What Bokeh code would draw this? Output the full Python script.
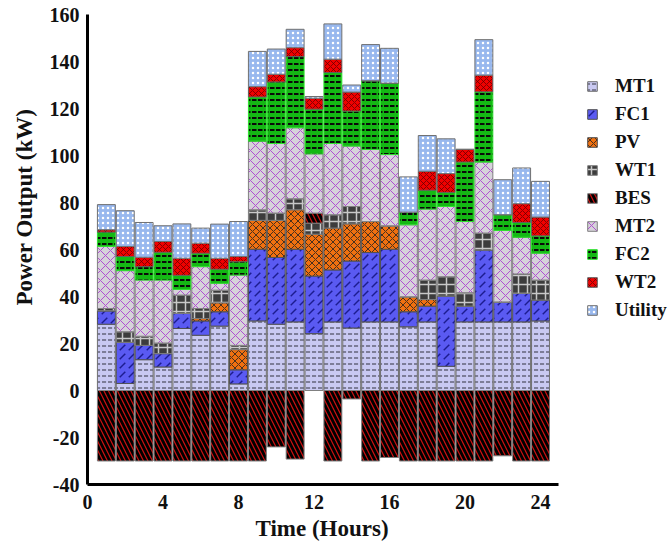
from bokeh.plotting import figure
from bokeh.models import ColumnDataSource, Range1d, Legend, LegendItem, Title
from bokeh.embed import file_html
from bokeh.resources import INLINE

# Hourly dispatch of each unit (kW)
hours = list(range(1, 25))
MT1 = [28.2, 3.0, 13.1, 10.0, 26.4, 23.5, 27.4, 2.8, 29.6, 28.2, 29.2, 24.2,
       29.2, 26.6, 29.2, 29.2, 27.1, 29.2, 10.3, 29.2, 29.2, 29.2, 29.2, 29.6]
FC1 = [5.7, 17.5, 6.1, 5.7, 6.4, 6.1, 6.1, 6.0, 30.5, 28.4, 30.9, 24.5,
       22.1, 28.5, 29.5, 30.9, 6.4, 6.7, 29.9, 6.7, 30.6, 8.5, 12.1, 8.9]
PV = [0, 0, 0, 0, 0, 1.0, 3.8, 8.6, 12.3, 15.8, 16.8, 17.8,
      17.8, 15.8, 13.2, 10.0, 6.4, 2.8, 0, 0, 0, 0, 0, 0]
WT1 = [1.0, 4.5, 3.9, 4.5, 7.8, 4.3, 5.4, 1.8, 4.5, 3.1, 4.7, 4.7,
       5.7, 7.4, 0, 0, 0, 8.3, 8.2, 5.7, 7.2, 0, 8.3, 8.5]
BES_dis = [0, 0, 0, 0, 0, 0, 0, 0, 0, 0, 0, 4.3,
           0, 0, 0, 0, 0, 0, 0, 0, 0, 0, 0, 0]
BES_chg = [-30, -30, -30, -30, -30, -30, -30, -30, -30, -24.0, -29.2, 0,
           -30, -3.6, -30, -28.5, -30, -30, -30, -30, -30, -27.8, -30, -30]
MT2 = [26.4, 26.0, 23.9, 26.8, 2.4, 17.8, 2.9, 29.9, 29.2, 29.6, 30.2, 25.2,
       30.3, 25.7, 30.7, 30.3, 30.6, 30.2, 29.9, 30.3, 30.2, 30.4, 15.6, 11.4]
FC2 = [6.1, 6.0, 5.7, 11.8, 6.0, 5.7, 6.0, 5.7, 18.8, 26.2, 30.3, 19.0,
       30.2, 14.9, 29.2, 30.4, 5.4, 8.0, 6.0, 25.3, 29.9, 6.7, 6.3, 7.4]
WT2 = [1.0, 4.3, 4.0, 4.6, 7.3, 4.3, 4.7, 2.2, 4.4, 3.3, 3.8, 4.7,
       5.7, 8.1, 0, 0, 0, 8.1, 8.0, 5.4, 7.1, 0, 8.0, 8.0]
Utility = [10.7, 15.2, 14.8, 6.7, 14.6, 6.4, 14.5, 14.9, 15.0, 10.7, 7.8, 0.7,
           15.0, 3.0, 15.4, 14.8, 15.0, 15.2, 14.8, 0, 15.1, 14.9, 15.2, 15.2]

x_ticks = [0, 4, 8, 12, 16, 20, 24]
y_ticks = [-40, -20, 0, 20, 40, 60, 80, 100, 120, 140, 160]

src = ColumnDataSource(dict(hour=hours, MT1=MT1, FC1=FC1, PV=PV, WT1=WT1,
                            BESd=BES_dis, BESc=BES_chg, MT2=MT2, FC2=FC2,
                            WT2=WT2, Utility=Utility))

FONT = "Liberation Serif"
X_END = 24.95          # end of the drawn time axis
PX_PER_HOUR = 18.875   # horizontal scale of the frame

# The frame runs to the right edge so the legend can sit beside the bars;
# the x-axis line itself is bounded to the time span.
FRAME_W = 584
p = figure(width=670, height=546, frame_width=FRAME_W, frame_height=470,
           output_backend="svg", toolbar_location=None,
           x_range=Range1d(0, FRAME_W / PX_PER_HOUR), y_range=Range1d(-40, 160),
           min_border_left=86, min_border_right=0,
           min_border_top=14, min_border_bottom=62)

stackers = ["MT1", "FC1", "PV", "WT1", "BESd", "MT2", "FC2", "WT2", "Utility"]
fills = ["#c9c9f2", "#5a5af2", "#f07010", "#3c3c3c", "#000000",
         "#d6d2da", "#14b814", "#f00000", "#98b8ee"]
hcolors = ["#4a4a5a", "#1c1c90", "#202020", "#c8c8c8", "#d01010",
           "#b050d0", "#0a0a0a", "#5a0000", "#ffffff"]
hpatterns = ["horizontal_dash", "right_diagonal_dash", "diagonal_cross", "cross",
             "left_diagonal_line", "diagonal_cross", "horizontal_dash",
             "diagonal_cross", "dot"]
hscales = [6, 9, 7, 9, 9, 10, 6, 6, 5]
hweights = [1.2, 1.5, 0.8, 1.5, 1.2, 1.0, 2.0, 0.7, 1.5]
lcolors = ["#707070", "#505050", "#505050", "#808080", "#808080",
           "#808080", "#30e030", "#606060", "#707070"]

bars = p.vbar_stack(stackers, x="hour", width=0.95, source=src,
                    fill_color=fills, hatch_color=hcolors,
                    hatch_pattern=hpatterns, hatch_scale=hscales,
                    hatch_weight=hweights, line_color=lcolors, line_width=1)

bes_neg = p.vbar(x="hour", top=0, bottom="BESc", width=0.95, source=src,
                 fill_color="#000000", hatch_color="#d01010",
                 hatch_pattern="left_diagonal_line", hatch_scale=9,
                 hatch_weight=1.2, line_color="#808080", line_width=1)

names = ["MT1", "FC1", "PV", "WT1", "BES", "MT2", "FC2", "WT2", "Utility"]
items = []
for name, r in zip(names, bars):
    items.append(LegendItem(label=name, renderers=[bes_neg] if name == "BES" else [r]))

legend = Legend(items=items, location=(499, 163), margin=0, padding=0,
                spacing=6, glyph_width=12, glyph_height=12, label_height=20,
                label_standoff=17, border_line_color=None,
                background_fill_alpha=0,
                label_text_font=FONT, label_text_font_style="bold",
                label_text_font_size="19px", label_text_color="#111111")
p.add_layout(legend)

for ax in (p.xaxis, p.yaxis):
    ax.axis_line_width = 3
    ax.axis_line_color = "#000000"
    ax.major_tick_line_color = None
    ax.minor_tick_line_color = None
    ax.major_tick_in = 0
    ax.major_tick_out = 0
    ax.minor_tick_in = 0
    ax.minor_tick_out = 0
    ax.major_label_text_font = FONT
    ax.major_label_text_font_style = "bold"
    ax.major_label_text_font_size = "20px"
    ax.major_label_text_color = "#111111"

p.xaxis.ticker = x_ticks
p.xaxis.bounds = (0, X_END)
p.yaxis.ticker = y_ticks
p.yaxis.major_label_overrides = {-40: "-40", -20: "-20"}
p.xaxis.major_label_standoff = 10
p.yaxis.major_label_standoff = 8

# Axis titles, positioned along the bounded axes
x_title = Title(text="Time (Hours)", align="left", offset=168, standoff=4,
                text_font=FONT, text_font_style="bold", text_font_size="23px",
                text_color="#111111")
p.add_layout(x_title, "below")

y_title = Title(text="Power Output (kW)", align="left", offset=179, standoff=19,
                text_font=FONT, text_font_style="bold", text_font_size="23px",
                text_color="#111111")
p.add_layout(y_title, "left")

p.grid.visible = False
p.outline_line_color = None
p.background_fill_color = "#ffffff"
p.border_fill_color = "#ffffff"

open("out.html", "w").write(file_html(p, INLINE))
